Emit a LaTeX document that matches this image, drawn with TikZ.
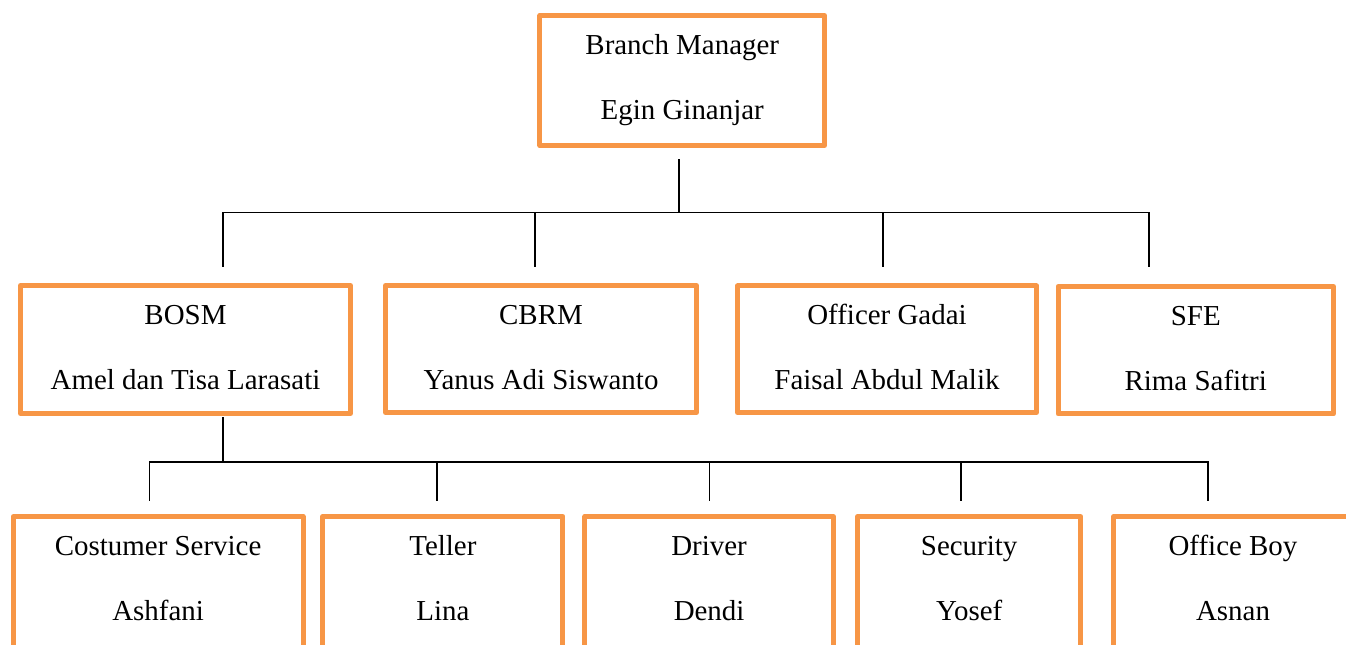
\documentclass[tikz,border=0pt]{standalone}
\usepackage{fontspec}
\setmainfont{Liberation Serif}
\definecolor{boxorange}{HTML}{F79646}

\begin{document}
\begin{tikzpicture}[x=0.75pt,y=-0.75pt]
\useasboundingbox (0,0) rectangle (1346,645);
\clip (0,0) rectangle (1346,645);

\begin{scope}[every node/.style={rectangle,draw=boxorange,line width=3.75pt,line join=round,
              align=center,inner sep=0pt,text depth=0pt,font=\fontsize{21.7}{48.75}\selectfont}]
    \node (BM) [minimum width=213.4pt,minimum height=97.5pt,text height=57.9pt] at (682.25,80.5) {Branch Manager\\Egin Ginanjar};
    \node (BOSM) [minimum width=247.5pt,minimum height=96pt,text height=59.4pt] at (185.5,349.5) {BOSM\\Amel dan Tisa Larasati};
    \node (CBRM) [minimum width=233.25pt,minimum height=95.25pt,text height=60.15pt] at (541,349) {CBRM\\Yanus Adi Siswanto};
    \node (OG) [minimum width=224.25pt,minimum height=94.9pt,text height=60.5pt] at (887,349.25) {Officer Gadai\\Faisal Abdul Malik};
    \node (SFE) [minimum width=206.6pt,minimum height=95.6pt,text height=59.8pt] at (1195.75,350.25) {SFE\\Rima Safitri};
    \node (CS) [minimum width=217.3pt,minimum height=105pt,text height=50.4pt] at (158.15,586.6) {Costumer Service\\Ashfani};
    \node (T) [minimum width=180.2pt,minimum height=105pt,text height=50.4pt] at (442.85,586.6) {Teller\\Lina};
    \node (D) [minimum width=186.2pt,minimum height=105pt,text height=50.4pt] at (709.1,586.6) {Driver\\Dendi};
    \node (S) [minimum width=167.5pt,minimum height=105pt,text height=50.4pt] at (969.15,586.6) {Security\\Yosef};
    \node (OB) [minimum width=179.25pt,minimum height=105pt,text height=50.4pt] at (1233,586.6) {Office Boy\\Asnan};
\end{scope}

% junctions of the tree lines
\coordinate (bm1) at (679,160);
\coordinate (bm2) at (679,212.7);
\coordinate (h1a) at (222.7,212.7);
\coordinate (h1d) at (1149,212.7);
\coordinate (h1b) at (535,212.7);
\coordinate (h1c) at (883,212.7);
\coordinate (bosm-in) at (222.7,266);
\coordinate (cbrm-in) at (535,266);
\coordinate (og-in) at (883,266);
\coordinate (sfe-in) at (1149,266);

\coordinate (bosm1) at (223,418);
\coordinate (bosm2) at (223,462);
\coordinate (h2a) at (149.3,462);
\coordinate (h2b) at (436.7,462);
\coordinate (h2c) at (709.3,462);
\coordinate (h2d) at (961,462);
\coordinate (h2e) at (1207.7,462);
\coordinate (cs-in) at (149.3,500);
\coordinate (t-in) at (436.7,500);
\coordinate (d-in) at (709.3,500);
\coordinate (s-in) at (961,500);
\coordinate (ob-in) at (1207.7,500);

\begin{scope}[every edge/.style={draw=black,line width=1.2pt,line cap=rect}]
    \path [-] (bm1) edge (bm2);
    \path [-] (h1a) edge (h1d);
    \path [-] (h1a) edge (bosm-in);
    \path [-] (h1b) edge (cbrm-in);
    \path [-] (h1c) edge (og-in);
    \path [-] (h1d) edge (sfe-in);
    \path [-] (bosm1) edge (bosm2);
    \path [-] (h2a) edge (h2e);
    \path [-] (h2a) edge (cs-in);
    \path [-] (h2b) edge (t-in);
    \path [-] (h2c) edge (d-in);
    \path [-] (h2d) edge (s-in);
    \path [-] (h2e) edge (ob-in);
\end{scope}
\end{tikzpicture}
\end{document}
